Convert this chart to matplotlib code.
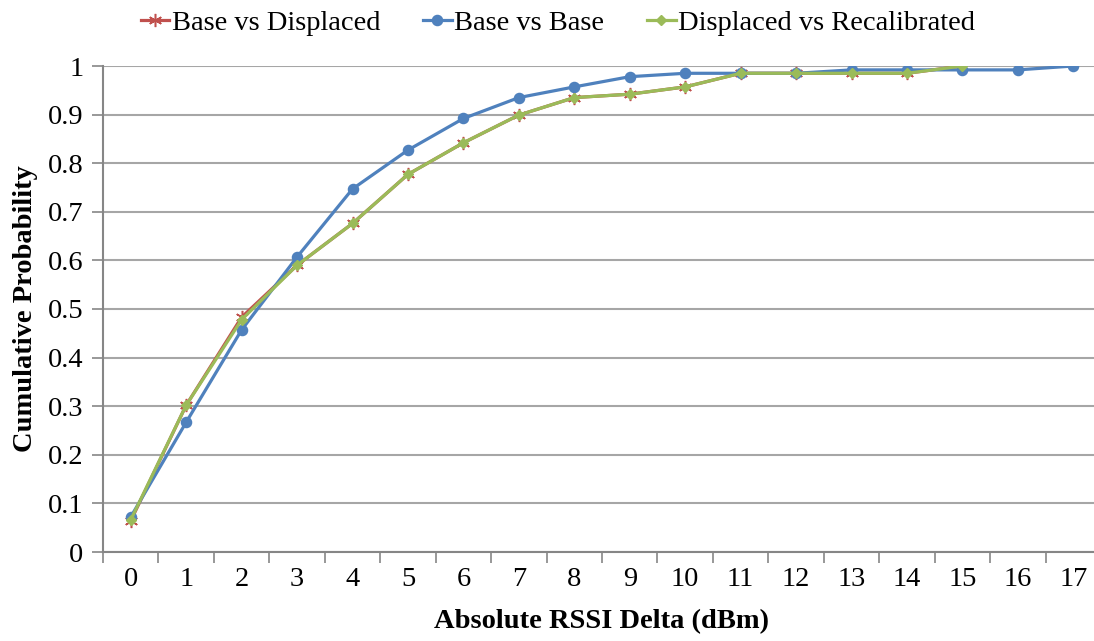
import matplotlib
matplotlib.use("Agg")
import matplotlib.pyplot as plt
from matplotlib.lines import Line2D
from matplotlib.ticker import FixedLocator, NullFormatter

plt.rcParams['font.family'] = ['Liberation Serif', 'DejaVu Serif']

# RSSI delta categories (dBm)
deltas_all = list(range(18))
deltas_disp = list(range(16))

# Cumulative probability per series
base_vs_base = [0.072, 0.267, 0.457, 0.607, 0.747, 0.827, 0.892, 0.935, 0.957,
                0.978, 0.985, 0.985, 0.985, 0.992, 0.992, 0.992, 0.992, 1.0]
base_vs_displaced = [0.064, 0.302, 0.483, 0.590, 0.676, 0.777, 0.842, 0.899, 0.935,
                     0.942, 0.957, 0.985, 0.985, 0.985, 0.985, 1.0]
displaced_vs_recal = [0.066, 0.302, 0.478, 0.590, 0.676, 0.777, 0.842, 0.899, 0.935,
                      0.942, 0.957, 0.985, 0.985, 0.985, 0.985, 1.0]

yticks = [0, 0.1, 0.2, 0.3, 0.4, 0.5, 0.6, 0.7, 0.8, 0.9, 1]
ytick_labels = ['0', '0.1', '0.2', '0.3', '0.4', '0.5', '0.6', '0.7', '0.8', '0.9', '1']

RED = '#C0504D'
BLUE = '#4F81BD'
GREEN = '#9BBB59'
AXIS = '#868686'
GRID = '#A6A6A6'
FS = 20.5
LW = 2.3

fig = plt.figure(figsize=(10.94, 6.41), dpi=100)
ax = fig.add_axes([103 / 1094, 1 - 552 / 641, 998 / 1094, (552 - 66) / 641])

ax.plot(deltas_disp, base_vs_displaced, color=RED, lw=LW, marker=(6, 2, 0),
        ms=9.5, mew=1.1, mec=RED, zorder=3)
ax.plot(deltas_all, base_vs_base, color=BLUE, lw=LW, marker='o', ms=7.3,
        mec=BLUE, mfc=BLUE, zorder=4)
ax.plot(deltas_disp, displaced_vs_recal, color=GREEN, lw=LW, marker='D', ms=5.5,
        mec=GREEN, mfc=GREEN, zorder=5)

ax.set_xlim(-0.5, 17.5)
ax.set_ylim(0, 1)

ax.set_yticks(yticks)
ax.set_yticklabels(ytick_labels)
ax.set_xticks(deltas_all)
ax.set_xticklabels([str(d) for d in deltas_all])
ax.xaxis.set_minor_locator(FixedLocator([d - 0.5 for d in deltas_all] + [17.5]))
ax.xaxis.set_minor_formatter(NullFormatter())

ax.tick_params(axis='x', which='major', length=0, pad=11, labelsize=FS)
ax.tick_params(axis='x', which='minor', length=8, width=1.2, color=AXIS, direction='out')
ax.tick_params(axis='y', which='major', length=8, width=1.2, color=AXIS,
               direction='out', pad=6, labelsize=FS)

ax.grid(axis='y', color=GRID, lw=1.5, zorder=0)
ax.set_axisbelow(True)

for side in ('top', 'right'):
    ax.spines[side].set_visible(False)
ax.spines['left'].set_color(AXIS)
ax.spines['left'].set_linewidth(1.5)
ax.spines['bottom'].set_color(AXIS)
ax.spines['bottom'].set_linewidth(1.5)

ax.set_xlabel('Absolute RSSI Delta (dBm)', fontsize=FS, fontweight='bold', labelpad=12)
ax.set_ylabel('Cumulative Probability', fontsize=FS, fontweight='bold', labelpad=7)

handles = [
    Line2D([], [], color=RED, lw=LW, marker=(6, 2, 0), ms=9.5, mew=1.1),
    Line2D([], [], color=BLUE, lw=LW, marker='o', ms=7.3),
    Line2D([], [], color=GREEN, lw=LW, marker='D', ms=5.5),
]
labels = ['Base vs Displaced', 'Base vs Base', 'Displaced vs Recalibrated']
fig.legend(handles, labels, loc='center', bbox_to_anchor=(0.51, 1 - 23 / 641),
           ncol=3, frameon=False, fontsize=FS, handlelength=1.0,
           handletextpad=0.1, columnspacing=1.5)

fig.savefig('out.png', dpi=100)
